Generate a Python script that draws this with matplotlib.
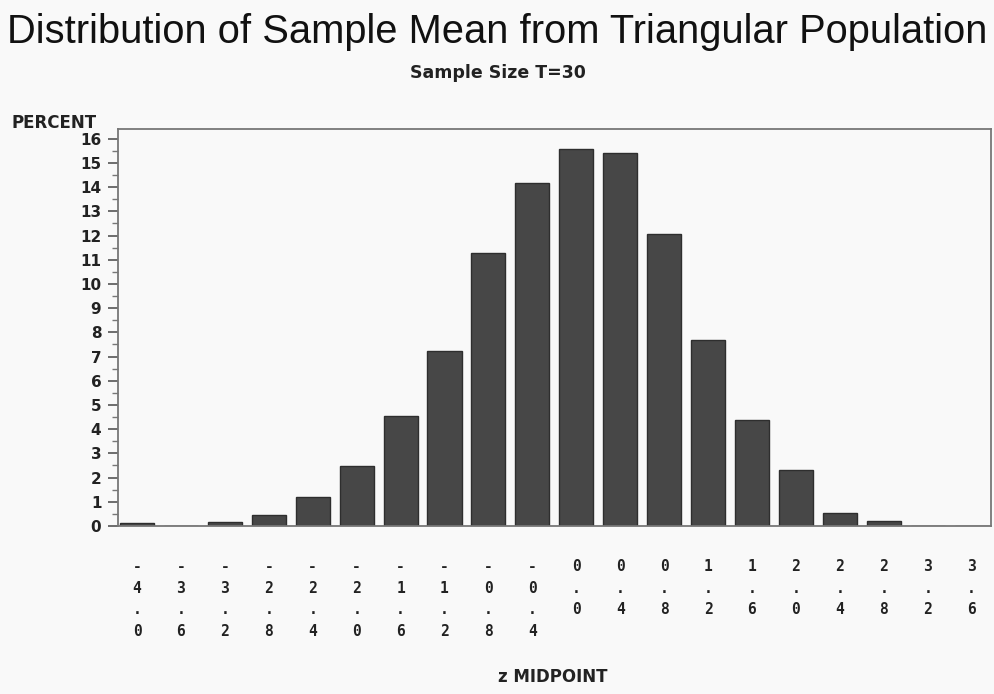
import numpy as np
import matplotlib.pyplot as plt
from matplotlib.ticker import MultipleLocator, AutoMinorLocator

# midpoints of z and percent of samples in each class
midpoints = [-4.0, -3.6, -3.2, -2.8, -2.4, -2.0, -1.6, -1.2, -0.8, -0.4,
             0.0, 0.4, 0.8, 1.2, 1.6, 2.0, 2.4, 2.8, 3.2, 3.6]
percent = [0.14, 0.0, 0.15, 0.45, 1.21, 2.48, 4.55, 7.24, 11.29, 14.16,
           15.57, 15.40, 12.05, 7.69, 4.38, 2.31, 0.55, 0.22, 0.0, 0.0]

# SAS style: each tick label written vertically, one character per line
tick_labels = ["\n".join(f"{m:.1f}") for m in midpoints]

bg = "#f9f9f9"
mono = "DejaVu Sans Mono"
sans = "DejaVu Sans"
ink = "#222222"

fig = plt.figure(figsize=(9.95, 6.94), dpi=100, facecolor=bg)
ax = fig.add_axes([0.1186, 0.2421, 0.8774, 0.572])
ax.set_facecolor(bg)

ax.bar(midpoints, percent, width=0.31, color="#474747",
       edgecolor="#2e2e2e", linewidth=1.0, zorder=2)

ax.set_xlim(-4.173, 3.777)
ax.set_ylim(0, 16.4)

ax.set_xticks(midpoints)
ax.set_xticklabels(tick_labels, fontfamily=mono, fontweight="bold",
                   fontsize=10.5, linespacing=1.54, color=ink)
ax.tick_params(axis="x", length=0, pad=24)

ax.yaxis.set_major_locator(MultipleLocator(1))
ax.yaxis.set_minor_locator(AutoMinorLocator(2))
ax.tick_params(axis="y", which="major", length=7, width=1.2,
               color="#555555", pad=5)
ax.tick_params(axis="y", which="minor", length=4, width=1.0, color="#777777")
for lab in ax.get_yticklabels():
    lab.set_fontfamily(sans)
    lab.set_fontweight("bold")
    lab.set_fontsize(11)
    lab.set_color(ink)

for s in ax.spines.values():
    s.set_color("#777777")
    s.set_linewidth(1.3)

fig.text(0.5, 0.954, "Distribution of Sample Mean from Triangular Population",
         ha="center", va="center", fontsize=28.7, fontfamily="Liberation Sans",
         color="#111111")
fig.text(0.5, 0.895, "Sample Size T=30", ha="center", va="center",
         fontsize=12.5, fontfamily=sans, fontweight="bold", color=ink)
fig.text(0.012, 0.823, "PERCENT", ha="left", va="center",
         fontsize=12, fontfamily=sans, fontweight="bold", color=ink)
fig.text(0.556, 0.024, "z MIDPOINT", ha="center", va="center",
         fontsize=12, fontfamily=sans, fontweight="bold", color=ink)

fig.savefig("out.png", dpi=100, facecolor=bg)
